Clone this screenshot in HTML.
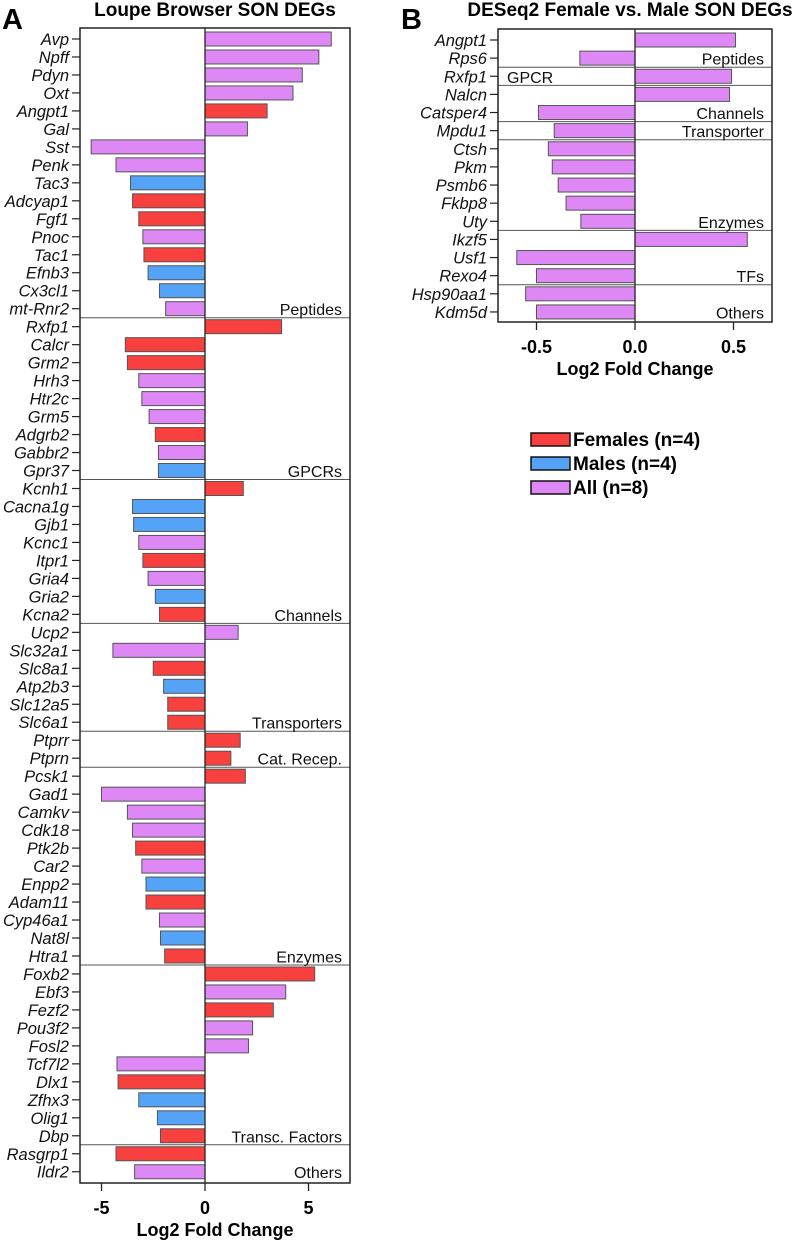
<!DOCTYPE html>
<html><head><meta charset="utf-8"><style>
body{margin:0;background:#fff;}
svg{display:block;font-family:"Liberation Sans",sans-serif;}
</style></head><body>
<svg id="svg" width="798" height="1240" viewBox="0 0 798 1240" xmlns="http://www.w3.org/2000/svg">
<text x="2" y="29" font-size="29" font-weight="bold">A</text>
<text x="215" y="16" font-size="19" font-weight="bold" text-anchor="middle">Loupe Browser SON DEGs</text>
<text x="401" y="29" font-size="29" font-weight="bold">B</text>
<text x="630" y="16" font-size="19" font-weight="bold" text-anchor="middle">DESeq2 Female vs. Male SON DEGs</text>
<g id="legend"></g>
</svg>
<script>
const aGenes=["Avp","Npff","Pdyn","Oxt","Angpt1","Gal","Sst","Penk","Tac3","Adcyap1","Fgf1","Pnoc","Tac1","Efnb3","Cx3cl1","mt-Rnr2",
"Rxfp1","Calcr","Grm2","Hrh3","Htr2c","Grm5","Adgrb2","Gabbr2","Gpr37",
"Kcnh1","Cacna1g","Gjb1","Kcnc1","Itpr1","Gria4","Gria2","Kcna2",
"Ucp2","Slc32a1","Slc8a1","Atp2b3","Slc12a5","Slc6a1",
"Ptprr","Ptprn",
"Pcsk1","Gad1","Camkv","Cdk18","Ptk2b","Car2","Enpp2","Adam11","Cyp46a1","Nat8l","Htra1",
"Foxb2","Ebf3","Fezf2","Pou3f2","Fosl2","Tcf7l2","Dlx1","Zfhx3","Olig1","Dbp",
"Rasgrp1","Ildr2"];
const aValues=[6.1,5.5,4.7,4.25,3.0,2.05,-5.5,-4.3,-3.6,-3.5,-3.2,-3.0,-2.95,-2.75,-2.2,-1.9,
3.7,-3.85,-3.75,-3.2,-3.05,-2.7,-2.4,-2.25,-2.25,
1.85,-3.5,-3.45,-3.2,-3.0,-2.75,-2.4,-2.2,
1.6,-4.45,-2.5,-2.0,-1.8,-1.8,
1.7,1.25,
1.95,-5.0,-3.75,-3.5,-3.35,-3.05,-2.85,-2.85,-2.2,-2.15,-1.95,
5.3,3.9,3.3,2.3,2.1,-4.25,-4.2,-3.2,-2.3,-2.15,
-4.3,-3.4];
const aGroups="AAAAFAAAMFFAFMMA FFFAAAFAM FMMAFAMF AAFMFF FF FAAAFAMFAMF FAFAAAFMMF FA".replace(/ /g,"").split("");
const aGroupNames=["Peptides","GPCRs","Channels","Transporters","Cat. Recep.","Enzymes","Transc. Factors","Others"];
const aGroupSizes=[16,9,8,6,2,11,10,2];
const aTicks=[-5,0,5];
const bGenes=["Angpt1","Rps6","Rxfp1","Nalcn","Catsper4","Mpdu1","Ctsh","Pkm","Psmb6","Fkbp8","Uty","Ikzf5","Usf1","Rexo4","Hsp90aa1","Kdm5d"];
const bValues=[0.51,-0.28,0.49,0.48,-0.49,-0.41,-0.44,-0.42,-0.39,-0.35,-0.275,0.57,-0.60,-0.50,-0.555,-0.50];
const bGroupNames=["Peptides","GPCR","Channels","Transporter","Enzymes","TFs","Others"];
const bGroupSizes=[2,1,2,1,5,3,2];
const bTicks=["-0.5","0.0","0.5"];
const legendLabels=["Females (n=4)","Males (n=4)","All (n=8)"];
const colors={F:"#f8403f",M:"#54a3f6",A:"#de88f6"};
const legendKeys=["F","M","A"];
const NS="http://www.w3.org/2000/svg";
const svg=document.getElementById('svg');
function mk(tag,attrs,parent,text){const e=document.createElementNS(NS,tag);for(const k in attrs)e.setAttribute(k,attrs[k]);if(text!==undefined)e.textContent=text;(parent||svg).appendChild(e);return e;}

function panel(cfg){
  const g=mk('g',{});
  
  
  const xs=v=>cfg.x0+v*cfg.k;
  const ys=i=>cfg.yFirst+i*cfg.step;
  cfg.genes.forEach((gn,i)=>{
    const v=cfg.values[i];const x=xs(v);
    const r=mk('rect',{x:Math.min(x,cfg.x0),y:ys(i)-7,width:Math.abs(x-cfg.x0),height:14,fill:colors[cfg.groups?cfg.groups[i]:"A"],stroke:"#555","stroke-width":1},g);
    
    
    const t=mk('text',{x:cfg.left-11,y:ys(i)+6,"font-size":cfg.fs,"font-style":"italic","text-anchor":"end",fill:"#111"},g,gn);
    
    
    mk('line',{x1:cfg.left-8,x2:cfg.left,y1:ys(i),y2:ys(i),stroke:"#222","stroke-width":1.2},g);
  });
  let idx=0;
  cfg.groupSizes.forEach((n,gi)=>{
    idx+=n;
    const last=idx-1;
    if(gi<cfg.groupSizes.length-1){
      const yl=ys(last)+cfg.step/2;
      const l=mk('line',{x1:cfg.left,x2:cfg.right,y1:yl,y2:yl,stroke:"#555","stroke-width":1},g);
      
      
    }
    const left=cfg.leftLabel&&cfg.leftLabel===cfg.groupNames[gi];
    const t=mk('text',{x:left?cfg.left+9:cfg.right-8,y:ys(last)+6.5,"font-size":cfg.gfs,"text-anchor":left?"start":"end",fill:"#111"},g,cfg.groupNames[gi]);
    
    
  });
  mk('line',{x1:cfg.x0,x2:cfg.x0,y1:cfg.top,y2:cfg.bottom,stroke:"#222","stroke-width":1.3},g);
  const box=mk('rect',{x:cfg.left,y:cfg.top,width:cfg.right-cfg.left,height:cfg.bottom-cfg.top,fill:"none",stroke:"#222","stroke-width":1.5},g);
  
  
  cfg.ticks.forEach(tv=>{
    const x=xs(parseFloat(tv));
    mk('line',{x1:x,x2:x,y1:cfg.bottom,y2:cfg.bottom+8,stroke:"#222","stroke-width":1.3},g);
    const t=mk('text',{x:x,y:cfg.bottom+31,"font-size":18,"font-weight":"bold","text-anchor":"middle"},g,String(tv));
    
    
  });
  const at=mk('text',{x:(cfg.left+cfg.right)/2,y:cfg.bottom+53,"font-size":18,"font-weight":"bold","text-anchor":"middle"},g,"Log2 Fold Change");
  
  
}
panel({name:'panel-a-chart',genes:aGenes,values:aValues,groups:aGroups,groupNames:aGroupNames,groupSizes:aGroupSizes,ticks:aTicks,
  left:80,right:350,top:28,bottom:1183,x0:205,k:20.7,yFirst:39,step:17.98,fs:16.5,gfs:16});
panel({name:'panel-b-chart',genes:bGenes,values:bValues,groupNames:bGroupNames,groupSizes:bGroupSizes,ticks:bTicks,leftLabel:"GPCR",
  left:498,right:772,top:29,bottom:322,x0:635,k:197,yFirst:40,step:18.13,fs:16.5,gfs:16});
const lg=document.getElementById('legend');
legendLabels.forEach((lab,i)=>{
  const y=439+i*24;
  const r=mk('rect',{x:531,y:y-6,width:39,height:13,fill:colors[legendKeys[i]],stroke:"#111","stroke-width":1.5},lg);
  
  
  const t=mk('text',{x:573,y:y+7,"font-size":19,"font-weight":"bold"},lg,lab);
  
  
});
</script>
</body></html>
